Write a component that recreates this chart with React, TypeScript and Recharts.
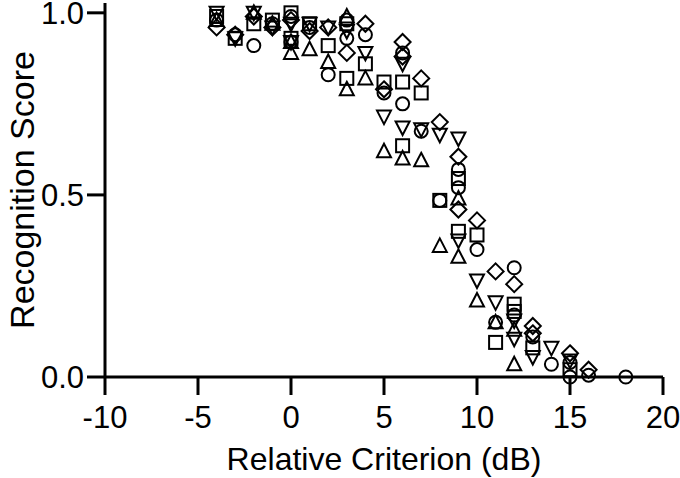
import React from 'react';
import { ScatterChart, Scatter, XAxis, YAxis } from 'recharts';

type Pt = { x: number; y: number };

// one array per marker shape
const circlePts: Pt[] = [
  { x: -4, y: 0.98 }, { x: -3, y: 0.94 }, { x: -2, y: 0.91 }, { x: -1, y: 0.97 },
  { x: 0, y: 0.99 }, { x: 0, y: 0.92 }, { x: 1, y: 0.96 }, { x: 2, y: 0.83 },
  { x: 3, y: 0.98 }, { x: 3, y: 0.93 }, { x: 4, y: 0.94 }, { x: 5, y: 0.78 },
  { x: 6, y: 0.89 }, { x: 6, y: 0.75 }, { x: 7, y: 0.675 }, { x: 8, y: 0.485 },
  { x: 9, y: 0.57 }, { x: 9, y: 0.52 }, { x: 10, y: 0.35 }, { x: 11, y: 0.15 },
  { x: 12, y: 0.3 }, { x: 12, y: 0.17 }, { x: 13, y: 0.11 }, { x: 14, y: 0.035 },
  { x: 15, y: 0.04 }, { x: 15, y: 0.0 }, { x: 16, y: 0.005 }, { x: 18, y: 0.0 },
];

const squarePts: Pt[] = [
  { x: -4, y: 0.99 }, { x: -3, y: 0.93 }, { x: -2, y: 0.97 }, { x: -1, y: 0.98 },
  { x: 0, y: 1.0 }, { x: 0, y: 0.93 }, { x: 1, y: 0.97 }, { x: 2, y: 0.91 },
  { x: 3, y: 0.97 }, { x: 3, y: 0.82 }, { x: 4, y: 0.86 }, { x: 5, y: 0.81 },
  { x: 6, y: 0.81 }, { x: 6, y: 0.635 }, { x: 7, y: 0.78 }, { x: 8, y: 0.485 },
  { x: 9, y: 0.545 }, { x: 9, y: 0.4 }, { x: 10, y: 0.39 }, { x: 11, y: 0.095 },
  { x: 12, y: 0.2 }, { x: 12, y: 0.18 }, { x: 13, y: 0.08 }, { x: 15, y: 0.02 },
];

const triUpPts: Pt[] = [
  { x: -4, y: 0.98 }, { x: -2, y: 1.0 }, { x: -1, y: 0.97 }, { x: 0, y: 0.89 },
  { x: 0, y: 0.92 }, { x: 1, y: 0.9 }, { x: 2, y: 0.865 }, { x: 3, y: 0.99 },
  { x: 3, y: 0.79 }, { x: 4, y: 0.82 }, { x: 5, y: 0.62 }, { x: 6, y: 0.6 },
  { x: 7, y: 0.595 }, { x: 8, y: 0.36 }, { x: 9, y: 0.49 }, { x: 9, y: 0.33 },
  { x: 10, y: 0.21 }, { x: 11, y: 0.15 }, { x: 12, y: 0.13 }, { x: 12, y: 0.035 },
];

const triDownPts: Pt[] = [
  { x: -4, y: 1.0 }, { x: -3, y: 0.93 }, { x: -2, y: 1.0 }, { x: -1, y: 0.96 },
  { x: 0, y: 0.97 }, { x: 0, y: 0.92 }, { x: 1, y: 0.97 }, { x: 2, y: 0.96 },
  { x: 3, y: 0.95 }, { x: 4, y: 0.89 }, { x: 5, y: 0.715 }, { x: 6, y: 0.86 },
  { x: 6, y: 0.685 }, { x: 7, y: 0.68 }, { x: 8, y: 0.665 }, { x: 9, y: 0.655 },
  { x: 9, y: 0.375 }, { x: 10, y: 0.265 }, { x: 11, y: 0.205 }, { x: 12, y: 0.155 },
  { x: 12, y: 0.105 }, { x: 13, y: 0.055 }, { x: 14, y: 0.08 }, { x: 15, y: 0.045 },
];

const diamondPts: Pt[] = [
  { x: -4, y: 0.96 }, { x: -3, y: 0.94 }, { x: -2, y: 0.99 }, { x: -1, y: 0.96 },
  { x: 0, y: 0.98 }, { x: 1, y: 0.95 }, { x: 2, y: 0.96 }, { x: 3, y: 0.89 },
  { x: 4, y: 0.97 }, { x: 5, y: 0.79 }, { x: 6, y: 0.92 }, { x: 6, y: 0.88 },
  { x: 7, y: 0.82 }, { x: 8, y: 0.7 }, { x: 9, y: 0.605 }, { x: 9, y: 0.46 },
  { x: 10, y: 0.43 }, { x: 11, y: 0.29 }, { x: 12, y: 0.255 }, { x: 13, y: 0.14 },
  { x: 13, y: 0.12 }, { x: 15, y: 0.065 }, { x: 16, y: 0.02 },
];

const xTicks = [-10, -5, 0, 5, 10, 15, 20];
const yTicks = [0, 0.5, 1];

const FONT = '"Liberation Sans", Arial, sans-serif';
const SW = 2;

const CircleMark = (p: any) => (
  <circle cx={p.cx} cy={p.cy} r={6.5} fill="none" stroke="#000" strokeWidth={SW} />
);
const SquareMark = (p: any) => (
  <rect x={p.cx - 6.5} y={p.cy - 6.5} width={13} height={13} fill="none" stroke="#000" strokeWidth={SW} />
);
const UpMark = (p: any) => (
  <path d={`M${p.cx},${p.cy - 7.5}L${p.cx + 7},${p.cy + 6}L${p.cx - 7},${p.cy + 6}Z`} fill="none" stroke="#000" strokeWidth={SW} />
);
const DownMark = (p: any) => (
  <path d={`M${p.cx},${p.cy + 7.5}L${p.cx + 7},${p.cy - 6}L${p.cx - 7},${p.cy - 6}Z`} fill="none" stroke="#000" strokeWidth={SW} />
);
const DiamondMark = (p: any) => (
  <path d={`M${p.cx},${p.cy - 8}L${p.cx + 8},${p.cy}L${p.cx},${p.cy + 8}L${p.cx - 8},${p.cy}Z`} fill="none" stroke="#000" strokeWidth={SW} />
);

export default function App() {
  const tick = { fill: '#000', fontSize: 31, fontFamily: FONT };
  const axisLine = { stroke: '#000', strokeWidth: 3 };
  return (
    <div style={{ position: 'absolute', left: 0, top: 0, width: 680, height: 478, background: '#fff' }}>
      <ScatterChart width={680} height={478} margin={{ top: 3, right: 17, bottom: 0, left: 0 }}>
        <XAxis
          type="number"
          dataKey="x"
          domain={[-10, 20]}
          ticks={xTicks}
          interval={0}
          tickSize={18}
          tickMargin={11}
          height={101}
          axisLine={axisLine}
          tickLine={axisLine}
          tick={tick}
          label={{ value: 'Relative Criterion (dB)', position: 'insideBottom', offset: 8, fill: '#000', fontSize: 32, fontFamily: FONT }}
        />
        <YAxis
          type="number"
          dataKey="y"
          domain={[0, 1.027]}
          ticks={yTicks}
          interval={0}
          tickFormatter={(v: number) => v.toFixed(1)}
          tickSize={18}
          tickMargin={3}
          width={105}
          axisLine={axisLine}
          tickLine={axisLine}
          tick={tick}
          label={{ value: 'Recognition Score', angle: -90, position: 'insideLeft', offset: 22, fill: '#000', fontSize: 34, fontFamily: FONT, style: { textAnchor: 'middle' } }}
        />
        <Scatter data={circlePts} shape={CircleMark} isAnimationActive={false} />
        <Scatter data={squarePts} shape={SquareMark} isAnimationActive={false} />
        <Scatter data={triUpPts} shape={UpMark} isAnimationActive={false} />
        <Scatter data={triDownPts} shape={DownMark} isAnimationActive={false} />
        <Scatter data={diamondPts} shape={DiamondMark} isAnimationActive={false} />
      </ScatterChart>
    </div>
  );
}
